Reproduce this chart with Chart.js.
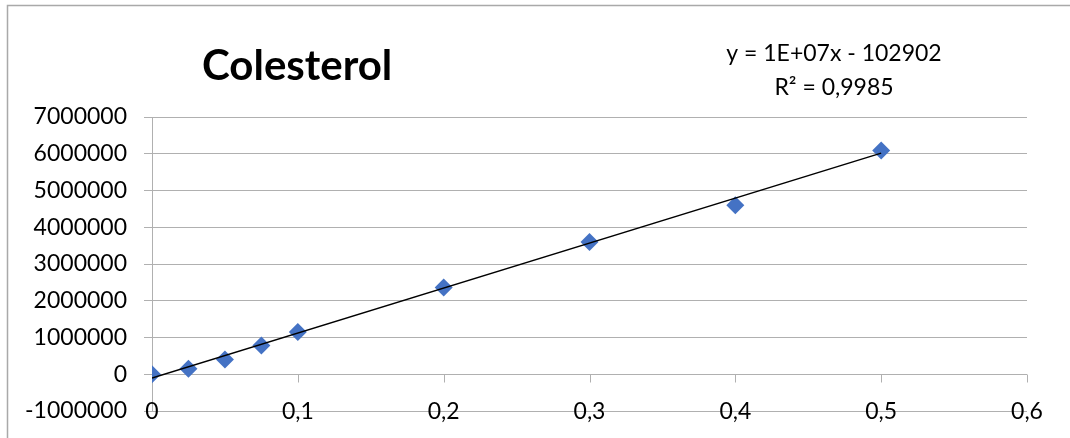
<!DOCTYPE html>
<html>
<head>
<meta charset="utf-8">
<style>
  html, body { margin: 0; padding: 0; background: #ffffff; }
  #wrap { position: relative; width: 1070px; height: 438px; }
  canvas { display: block; }
</style>
<script src="https://cdn.jsdelivr.net/npm/chart.js@4.4.1/dist/chart.umd.min.js"></script>
</head>
<body>
<div id="wrap"><canvas id="c" width="1070" height="438"></canvas></div>
<script>
// ---- data ----
const chartTitle = 'Colesterol';
const xValues = [0, 0.025, 0.05, 0.075, 0.1, 0.2, 0.3, 0.4, 0.5];
const yValues = [0, 150000, 400000, 780000, 1150000, 2360000, 3600000, 4600000, 6090000];
const trendSlope = 12240000;
const trendIntercept = -102902;
const trendLabel = ['y = 1E+07x - 102902', 'R\u00B2 = 0,9985'];
const xTicks = [0, 0.1, 0.2, 0.3, 0.4, 0.5, 0.6];
const xTickLabels = ['0', '0,1', '0,2', '0,3', '0,4', '0,5', '0,6'];
const yTicks = [-1000000, 0, 1000000, 2000000, 3000000, 4000000, 5000000, 6000000, 7000000];
const yTickLabels = ['-1000000', '0', '1000000', '2000000', '3000000', '4000000', '5000000', '6000000', '7000000'];

const FONT = "Lato, 'Open Sans', 'DejaVu Sans', sans-serif";
const GRID = '#b0b0b0';

const points = xValues.map((x, i) => ({ x: x, y: yValues[i] }));
const xMin = Math.min(...xValues), xMax = Math.max(...xValues);
const trendPoints = [xMin, xMax].map(x => ({ x: x, y: trendSlope * x + trendIntercept }));

const decorPlugin = {
  id: 'decor',
  beforeDraw(chart) {
    const ctx = chart.ctx;
    ctx.save();
    ctx.fillStyle = '#ffffff';
    ctx.fillRect(0, 0, chart.width, chart.height);
    ctx.strokeStyle = '#a9a9a9';
    ctx.lineWidth = 1.5;
    ctx.beginPath();
    ctx.moveTo(7.5, chart.height);
    ctx.lineTo(7.5, 5.5);
    ctx.lineTo(chart.width, 5.5);
    ctx.stroke();
    ctx.restore();
  },
  afterDraw(chart) {
    const ctx = chart.ctx;
    const xs = chart.scales.x, ys = chart.scales.y;
    ctx.save();
    // tick marks on the zero axis
    const y0 = Math.round(ys.getPixelForValue(0)) + 0.5;
    ctx.strokeStyle = GRID;
    ctx.lineWidth = 1;
    ctx.beginPath();
    xTicks.forEach(v => {
      if (v === 0) return;
      const px = Math.round(xs.getPixelForValue(v)) + 0.5;
      ctx.moveTo(px, y0);
      ctx.lineTo(px, y0 + 8);
    });
    ctx.stroke();
    // x tick labels, centred on the lowest gridline (low label position)
    ctx.fillStyle = '#000000';
    ctx.font = "23px " + FONT;
    ctx.textAlign = 'center';
    ctx.textBaseline = 'middle';
    const yLab = ys.getPixelForValue(ys.min) + 1;
    xTicks.forEach((v, i) => {
      ctx.fillText(xTickLabels[i], xs.getPixelForValue(v), yLab);
    });
    // title
    ctx.font = "bold 42px " + FONT;
    ctx.textAlign = 'left';
    ctx.textBaseline = 'alphabetic';
    ctx.fillText(chartTitle, 202, 80);
    // trendline label
    ctx.font = "23px " + FONT;
    ctx.textAlign = 'center';
    ctx.fillText(trendLabel[0], 834, 61);
    ctx.fillText(trendLabel[1], 834, 95);
    ctx.restore();
  }
};

new Chart(document.getElementById('c'), {
  type: 'scatter',
  data: {
    datasets: [
      {
        type: 'line',
        label: 'Trend',
        data: trendPoints,
        borderColor: '#000000',
        borderWidth: 1.5,
        pointRadius: 0,
        fill: false,
        order: 0
      },
      {
        label: chartTitle,
        data: points,
        pointStyle: 'rectRot',
        pointRadius: 9,
        pointHoverRadius: 9,
        backgroundColor: '#4472C4',
        borderColor: '#4472C4',
        borderWidth: 0,
        order: 1
      }
    ]
  },
  options: {
    responsive: false,
    animation: false,
    devicePixelRatio: 1,
    layout: { padding: { left: 8, right: 43, top: 117, bottom: 0 } },
    plugins: {
      legend: { display: false },
      title: { display: false },
      tooltip: { enabled: false }
    },
    scales: {
      x: {
        type: 'linear',
        min: 0,
        max: 0.6,
        afterBuildTicks: s => { s.ticks = xTicks.map(v => ({ value: v })); },
        afterFit: s => { s.height = 27; s.paddingLeft = 0; s.paddingRight = 0; },
        grid: { display: false },
        border: { display: false },
        ticks: { display: false }
      },
      y: {
        type: 'linear',
        min: -1000000,
        max: 7000000,
        afterBuildTicks: s => { s.ticks = yTicks.map(v => ({ value: v })); },
        afterFit: s => { s.width = 144; s.paddingTop = 0; s.paddingBottom = 0; },
        grid: { color: GRID, lineWidth: 1, tickLength: 8 },
        border: { display: true, color: GRID, width: 1 },
        ticks: {
          padding: 17,
          color: '#000000',
          font: { family: FONT, size: 23 },
          autoSkip: false,
          callback: (v) => { const i = yTicks.indexOf(v); return i >= 0 ? yTickLabels[i] : ''; }
        }
      }
    }
  },
  plugins: [decorPlugin]
});
</script>
</body>
</html>
